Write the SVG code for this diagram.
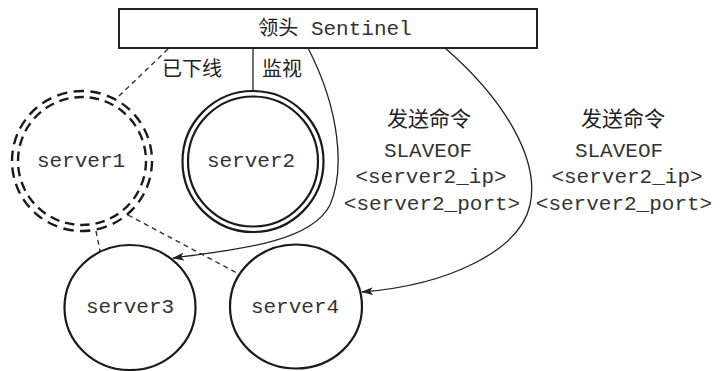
<svg xmlns="http://www.w3.org/2000/svg" width="720" height="371" viewBox="0 0 720 371">
<style>
.box{fill:#fff;stroke:#222;stroke-width:2}
.ring{fill:none;stroke:#1a1a1a;stroke-width:2.2}
.dring{fill:none;stroke:#1a1a1a;stroke-width:2.4;stroke-dasharray:6.2 3.8}
.mono{font-family:"Liberation Mono","DejaVu Sans Mono",monospace;font-size:21px;fill:#333;text-anchor:middle}
.cjk{font-family:"Noto Sans CJK SC","Noto Sans CJK JP",sans-serif;font-size:20px;fill:#222}
.line{fill:none;stroke:#222;stroke-width:1.3}
.dash{fill:none;stroke:#333;stroke-width:1.4;stroke-dasharray:5 4}
</style>
<defs>
<marker id="arr" viewBox="0 0 12 8" refX="11" refY="4" markerWidth="12" markerHeight="8" markerUnits="userSpaceOnUse" orient="auto">
<path d="M0,0 L12,4 L0,8 L3,4 Z" fill="#222"/>
</marker>
</defs>
<g id="connectors">
<line class="line" x1="253" y1="48" x2="253" y2="91"/>
<line class="dash" x1="168" y1="49" x2="118" y2="97"/>
<line class="dash" x1="96" y1="231" x2="100" y2="251"/>
<line class="dash" x1="128" y1="215" x2="237" y2="273"/>
<path class="line" d="M308,48 C340,110 345,170 330,205 C312,240 250,248 173,258" marker-end="url(#arr)"/>
<path class="line" d="M445,48 C505,100 540,160 530,205 C520,250 450,285 362,292" marker-end="url(#arr)"/>
</g>
<g id="leader">
<rect class="box" x="119" y="9" width="418" height="39"/>
<text x="335" y="35" style="text-anchor:middle"><tspan class="cjk">领头</tspan><tspan class="mono" style="text-anchor:start"> Sentinel</tspan></text>
</g>
<g id="server1">
<circle class="dring" cx="82" cy="161" r="70" pathLength="260"/>
<circle class="dring" cx="82" cy="161" r="64" pathLength="260"/>
<text class="mono" x="81" y="167">server1</text>
</g>
<g id="server2">
<circle class="ring" cx="253" cy="161.5" r="70.5"/>
<circle class="ring" cx="253" cy="161.5" r="65"/>
<text class="mono" x="251" y="167">server2</text>
</g>
<g id="server3">
<ellipse class="ring" cx="130" cy="307.5" rx="65.5" ry="62.5"/>
<text class="mono" x="130" y="313">server3</text>
</g>
<g id="server4">
<ellipse class="ring" cx="296" cy="306.5" rx="66" ry="62"/>
<text class="mono" x="295" y="313">server4</text>
</g>
<g id="labels">
<text class="cjk" x="162" y="76">已下线</text>
<text class="cjk" x="262" y="76">监视</text>
<text class="cjk" x="429" y="126" style="text-anchor:middle;font-size:21px">发送命令</text>
<text class="mono" x="428" y="157">SLAVEOF</text>
<text class="mono" x="431" y="183">&lt;server2_ip&gt;</text>
<text class="mono" x="432" y="210">&lt;server2_port&gt;</text>
<text class="cjk" x="623" y="126" style="text-anchor:middle;font-size:21px">发送命令</text>
<text class="mono" x="619" y="157">SLAVEOF</text>
<text class="mono" x="627" y="183">&lt;server2_ip&gt;</text>
<text class="mono" x="624" y="210">&lt;server2_port&gt;</text>
</g>
</svg>
